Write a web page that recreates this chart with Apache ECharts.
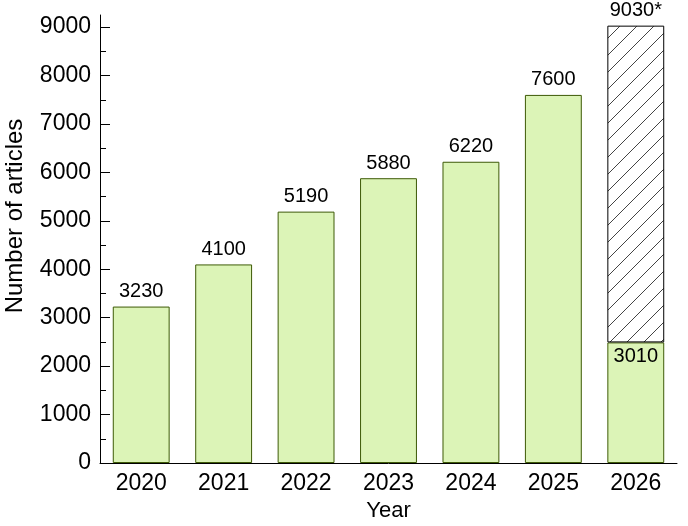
<!DOCTYPE html>
<html>
<head>
<meta charset="utf-8">
<script src="https://cdn.jsdelivr.net/npm/echarts@6/dist/echarts.min.js"></script>
<style>html,body{margin:0;padding:0;background:#fff}#c{width:688px;height:526px}</style>
</head>
<body>
<div id="c"></div>
<script>
var years = ['2020','2021','2022','2023','2024','2025','2026'];
var articles = [3230, 4100, 5190, 5880, 6220, 7600, 2490];
var articleLabels = ['3230','4100','5190','5880','6220','7600','3010'];
var projectedExtra = [null, null, null, null, null, null, 6540];
var projectedLabel = '9030*';
var yTicks = [0,1000,2000,3000,4000,5000,6000,7000,8000,9000];
var yMinorTicks = [500,1500,2500,3500,4500,5500,6500,7500,8500];

var cv = document.createElement('canvas');
cv.width = 17; cv.height = 17;
var g = cv.getContext('2d');
g.fillStyle = '#fff'; g.fillRect(0,0,17,17);
g.strokeStyle = '#444'; g.lineWidth = 1;
g.beginPath();
g.moveTo(-2,19); g.lineTo(19,-2);
g.stroke();

var font = 'Liberation Sans, Arial, sans-serif';
var chart = echarts.init(document.getElementById('c'), null, {renderer:'canvas'});
var lastIdx = articles.length - 1;
var greenData = articles.map(function(v,i){
  if (i === lastIdx) return {value: v, label: {position: 'insideTop', distance: 4}};
  return v;
});
chart.setOption({
  animation: false,
  grid: {left: 100, right: 11, top: 15, bottom: 63, containLabel: false, outerBoundsMode: 'none'},
  xAxis: {
    type: 'category', data: years,
    axisLine: {lineStyle: {color: '#000', width: 1}},
    axisTick: {show: false},
    axisLabel: {color: '#000', fontSize: 23, fontFamily: font, margin: 9},
    name: 'Year', nameLocation: 'middle', nameGap: 37,
    nameTextStyle: {color: '#000', fontSize: 22, fontFamily: font}
  },
  yAxis: [{
    type: 'value', min: 0, max: 9250,
    axisLine: {show: true, lineStyle: {color: '#000', width: 1}},
    axisTick: {show: true, inside: true, length: 10, customValues: yTicks, lineStyle: {color: '#000'}},
    axisLabel: {color: '#000', fontSize: 23, fontFamily: font, margin: 9, customValues: yTicks,
      formatter: function(v){ return String(v); }},
    splitLine: {show: false},
    name: 'Number of articles', nameLocation: 'middle', nameGap: 73,
    nameTextStyle: {color: '#000', fontSize: 24, fontFamily: font, padding: [0, 0, 0, 46]}
  }, {
    type: 'value', min: 0, max: 9250, position: 'left',
    axisLine: {show: false},
    axisTick: {show: true, inside: true, length: 6, customValues: yMinorTicks, lineStyle: {color: '#000'}},
    axisLabel: {show: false},
    splitLine: {show: false}
  }],
  series: [{
    type: 'bar', stack: 'a', data: greenData, barWidth: '69%',
    itemStyle: {color: '#dcf4b7', borderColor: '#3d5a06', borderWidth: 1},
    label: {
      show: true, position: 'top', distance: 5,
      color: '#000', fontSize: 20, fontFamily: font,
      formatter: function(p){ return articleLabels[p.dataIndex]; }
    }
  }, {
    type: 'bar', stack: 'a', data: projectedExtra, barWidth: '69%',
    itemStyle: {color: {image: cv, repeat: 'repeat'}, borderColor: '#000', borderWidth: 1},
    label: {
      show: true, position: 'top', distance: 5,
      color: '#000', fontSize: 20, fontFamily: font,
      formatter: function(){ return projectedLabel; }
    }
  }]
});
</script>
</body>
</html>
